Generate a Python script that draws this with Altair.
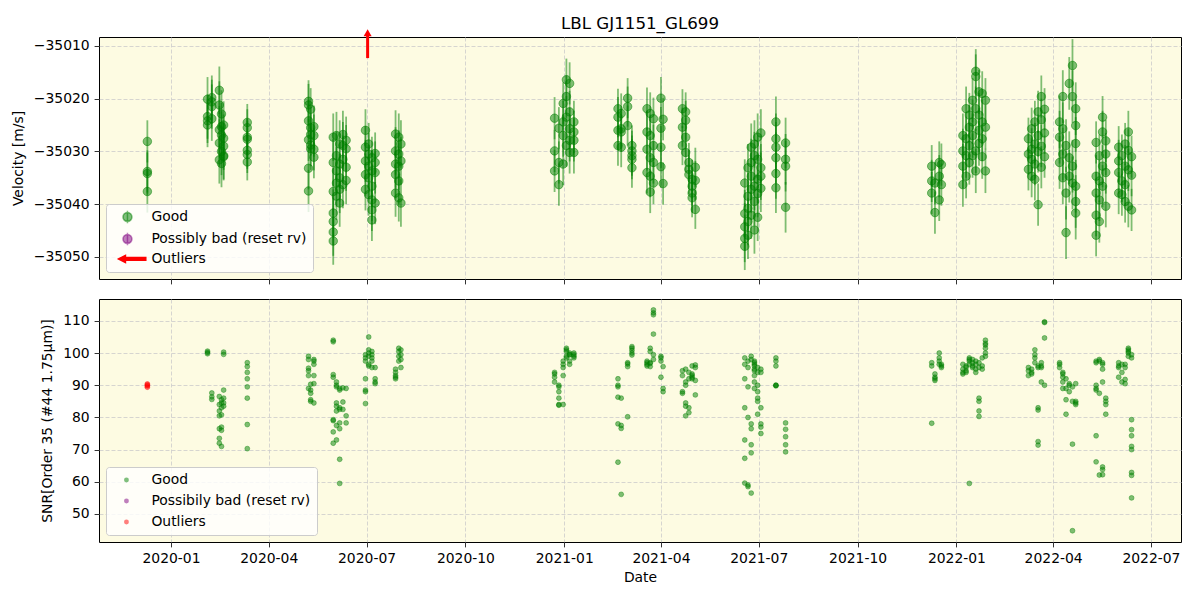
import altair as alt
import pandas as pd

# ---------------- data ----------------
status_top = ["Good", "Possibly bad (reset rv)", "Outliers"]
status_bottom = ["Good", "Possibily bad (reset rv)", "Outliers"]
status_colors = ["#008000", "#800080", "#ff0000"]
status_colors_alpha = ["rgba(0,128,0,0.5)", "rgba(128,0,128,0.5)", "#ff0000"]

x_tick_labels = ["2020-01", "2020-04", "2020-07", "2020-10", "2021-01", "2021-04",
                 "2021-07", "2021-10", "2022-01", "2022-04", "2022-07"]
x_domain = ["2019-10-26", "2022-07-29"]
rv_domain = [-35054.2, -35008.3]
rv_ticks = [-35050, -35040, -35030, -35020, -35010]
snr_domain = [41.3, 116.8]
snr_ticks = [50, 60, 70, 80, 90, 100, 110]

night_dates = [
    "2019-12-10",
    "2020-02-04", "2020-02-08",
    "2020-02-15", "2020-02-17", "2020-02-19",
    "2020-03-12",
    "2020-05-08", "2020-05-10", "2020-05-13",
    "2020-05-31", "2020-06-03", "2020-06-06", "2020-06-09", "2020-06-12",
    "2020-06-30", "2020-07-03", "2020-07-06", "2020-07-09",
    "2020-07-28", "2020-07-31", "2020-08-02",
    "2020-12-23", "2020-12-27", "2020-12-31", "2021-01-03", "2021-01-06", "2021-01-10",
    "2021-02-20", "2021-02-23", "2021-03-01", "2021-03-05",
    "2021-03-19", "2021-03-22", "2021-03-25", "2021-04-01", "2021-04-03",
    "2021-04-21", "2021-04-24", "2021-04-27", "2021-04-30", "2021-05-03",
    "2021-06-18", "2021-06-21", "2021-06-24", "2021-06-27", "2021-06-30", "2021-07-03",
    "2021-07-17", "2021-07-26",
    "2021-12-09", "2021-12-12", "2021-12-16", "2021-12-18",
    "2022-01-07", "2022-01-10", "2022-01-13", "2022-01-16", "2022-01-19", "2022-01-22",
    "2022-01-25", "2022-01-28",
    "2022-03-09", "2022-03-12", "2022-03-15", "2022-03-18", "2022-03-21", "2022-03-24",
    "2022-04-07", "2022-04-10", "2022-04-13", "2022-04-16", "2022-04-19", "2022-04-22",
    "2022-05-11", "2022-05-14", "2022-05-17", "2022-05-20",
    "2022-06-01", "2022-06-04", "2022-06-07", "2022-06-10", "2022-06-13",
]

night_rv = [
    [-35028.1, -35033.8, -35034.2, -35037.6],
    [-35020.1, -35023.4, -35025.0, -35024.2], [-35019.8, -35020.6, -35023.8, -35021.5],
    [-35018.4, -35021.2, -35025.9, -35028.4, -35031.6], [-35022.9, -35025.3, -35026.9, -35030.0, -35032.3],
    [-35025.0, -35027.5, -35029.0, -35030.8, -35031.0],
    [-35024.5, -35025.5, -35027.3, -35027.7, -35029.8, -35030.6, -35032.0],
    [-35020.5, -35021.2, -35024.2, -35027.8, -35033.2, -35037.5], [-35022.0, -35025.5, -35026.8, -35028.8, -35029.5],
    [-35025.3, -35027.0, -35029.6, -35031.1],
    [-35027.3, -35032.1, -35037.6, -35041.7, -35043.3, -35045.3, -35047.0], [-35027.0, -35030.8, -35033.7, -35036.0, -35038.5],
    [-35028.6, -35032.4, -35035.0, -35037.2, -35039.8], [-35026.8, -35028.9, -35031.5, -35036.3],
    [-35027.9, -35029.5, -35033.0, -35035.5],
    [-35026.0, -35029.2, -35031.8, -35034.4, -35037.2], [-35028.6, -35030.5, -35032.8, -35035.0, -35038.2],
    [-35031.2, -35033.7, -35036.6, -35039.2, -35041.1, -35043.0], [-35030.4, -35032.1, -35034.0, -35039.8],
    [-35026.7, -35029.9, -35032.4, -35034.4, -35037.9], [-35027.3, -35030.5, -35032.8, -35035.6, -35038.8],
    [-35028.6, -35031.8, -35039.8],
    [-35023.7, -35029.9, -35033.7], [-35025.6, -35032.1, -35036.3], [-35020.9, -35024.4, -35027.0, -35032.4],
    [-35016.4, -35019.6, -35023.5, -35028.9], [-35017.1, -35022.5, -35025.7, -35027.9, -35030.2],
    [-35024.4, -35026.3, -35027.9, -35030.2],
    [-35021.9, -35023.5, -35026.0, -35028.9], [-35022.8, -35025.7, -35026.3, -35029.2], [-35019.9, -35021.5, -35025.1],
    [-35028.9, -35029.9, -35030.8, -35031.5, -35033.1],
    [-35021.9, -35026.3, -35029.6, -35034.0], [-35022.8, -35027.0, -35031.2, -35034.7, -35037.7],
    [-35023.8, -35028.9, -35032.1, -35036.0], [-35019.9, -35025.6, -35029.2, -35032.9], [-35023.9, -35036.1],
    [-35021.9, -35025.4, -35028.9], [-35022.5, -35024.1, -35027.3, -35030.2], [-35032.1, -35033.4, -35034.4],
    [-35035.3, -35036.6, -35037.9, -35038.8], [-35033.0, -35035.5, -35041.0],
    [-35036.0, -35041.8, -35044.3, -35048.0, -35046.5], [-35033.1, -35038.5, -35043.3, -35045.9, -35040.8],
    [-35029.2, -35032.1, -35034.7, -35037.2, -35042.1], [-35028.6, -35030.8, -35036.6, -35039.5, -35044.9],
    [-35027.3, -35031.5, -35035.3, -35038.0, -35042.5], [-35026.5, -35033.1, -35034.7, -35037.0],
    [-35024.4, -35027.6, -35029.2, -35031.2, -35034.2, -35036.9], [-35028.4, -35031.5, -35032.8, -35040.6],
    [-35032.8, -35035.6, -35037.9], [-35041.6, -35036.0], [-35032.1, -35034.7, -35039.2], [-35032.5, -35036.3],
    [-35027.0, -35029.9, -35032.8, -35036.3], [-35021.9, -35027.6, -35030.8, -35034.7],
    [-35023.1, -35025.4, -35028.9, -35032.1], [-35020.3, -35024.4, -35027.0, -35030.8],
    [-35014.8, -35015.8, -35021.9, -35029.9, -35033.7], [-35018.7, -35023.1, -35026.0, -35028.5],
    [-35019.0, -35024.4, -35027.6, -35031.0], [-35020.3, -35025.4, -35033.7],
    [-35027.6, -35030.5, -35033.4], [-35025.7, -35029.6, -35031.5, -35034.7], [-35024.4, -35028.6, -35032.4, -35035.3],
    [-35022.5, -35027.0, -35030.0, -35040.1], [-35019.6, -35024.0, -35029.0, -35033.0], [-35022.0, -35026.5, -35031.0],
    [-35024.4, -35027.3, -35032.1], [-35019.6, -35025.7, -35030.5, -35035.0], [-35028.9, -35037.9, -35045.4],
    [-35017.1, -35031.2, -35034.7], [-35013.7, -35019.6, -35032.8, -35036.0],
    [-35021.9, -35025.1, -35028.5, -35036.6, -35039.5, -35041.7],
    [-35028.3, -35034.7, -35037.9, -35042.1, -35045.9], [-35030.8, -35035.6, -35039.2, -35043.3],
    [-35023.5, -35026.3, -35032.8, -35036.6], [-35028.0, -35030.5, -35034.0, -35040.4],
    [-35029.2, -35031.8, -35034.0, -35037.9], [-35030.8, -35035.6, -35038.2], [-35028.6, -35032.8, -35036.3, -35039.5],
    [-35026.3, -35029.8, -35033.5, -35040.4], [-35031.0, -35034.5, -35041.1],
]

night_rv_err = (
    [4.0] + [4.2] * 2 + [4.5] * 3 + [3.5] + [4.0] * 3 + [4.5] * 5 + [4.0] * 4 + [4.5] * 3
    + [4.0] * 6 + [3.8] * 4 + [4.0] * 5 + [3.7] * 5 + [4.5] * 6 + [4.8] * 2 + [4.0] * 4
    + [4.2] * 8 + [4.0] * 6 + [5.0] * 6 + [4.0] * 4 + [4.0] * 5
)

night_snr = [
    [],
    [100.6, 100.2, 99.8], [87.6, 86.4, 85.6],
    [86.5, 84.0, 82.0, 80.5, 76.5, 73.5, 72.0], [85.5, 84.5, 83.0, 80.8, 77.0, 76.0, 71.0],
    [100.3, 99.6, 88.5, 86.0, 84.5, 83.5],
    [97.0, 95.8, 94.0, 92.0, 89.5, 86.0, 77.8, 70.3],
    [99.0, 98.0, 95.3, 94.5, 93.0, 89.0], [90.3, 88.5, 87.5, 85.5, 85.0], [98.0, 97.5, 96.5, 93.0, 90.5, 84.5],
    [104.0, 103.5, 93.3, 92.5, 79.3, 79.0, 75.5, 72.0], [91.0, 90.0, 89.5, 84.5, 83.5, 82.0, 77.5, 73.0],
    [89.0, 88.5, 83.0, 82.5, 78.3, 76.5, 67.0, 59.5], [89.2, 84.8, 82.5], [89.0, 80.5, 78.3],
    [99.5, 98.5, 97.5, 92.0, 88.5, 88.0, 84.3], [105.0, 101.0, 100.0, 99.0, 96.5, 96.0],
    [100.5, 99.5, 98.5, 97.5, 95.5], [95.5, 92.0, 91.0, 90.5],
    [92.0, 92.5, 93.0, 94.0, 95.0], [97.5, 99.0, 100.5, 101.5], [95.5, 98.0, 99.5, 101.0],
    [94.0, 93.5, 92.5, 91.0], [90.0, 89.5, 88.0, 86.0, 84.0, 83.8], [97.5, 96.5, 95.5, 84.0, 93.0],
    [101.5, 101.0, 100.5, 99.0, 98.5], [100.0, 99.5, 99.5, 97.5, 96.5], [100.0, 99.5, 99.0, 98.5],
    [92.0, 90.0, 89.5, 86.3, 78.0, 66.1], [86.0, 77.5, 76.6, 56.1], [97.0, 96.6, 95.8, 80.2],
    [102.0, 101.5, 100.8, 100.0, 99.4],
    [97.5, 97.0, 96.5, 96.0], [101.5, 100.5, 97.0, 96.8, 95.8], [113.4, 112.5, 111.9, 105.9, 99.5, 98.0],
    [99.0, 98.5, 97.5, 92.5], [95.8, 89.0, 88.0],
    [94.5, 93.0, 88.0, 87.5], [95.0, 91.0, 90.0, 84.5, 83.5, 80.5], [94.0, 92.0, 81.5, 83.0],
    [96.0, 93.5, 93.0, 92.5, 92.0], [96.3, 95.5, 91.5, 87.0],
    [98.5, 96.5, 92.0, 83.0, 73.0, 67.3, 59.6], [97.5, 95.5, 89.5, 80.0, 59.0, 58.5],
    [99.0, 98.0, 78.0, 76.5, 71.5, 69.0, 56.5], [97.5, 97.0, 96.5, 96.0, 95.0, 94.5, 93.0, 91.0, 89.0],
    [95.5, 94.0, 90.0, 88.0, 86.0, 85.0, 81.0], [95.0, 94.0, 83.0, 78.0, 77.0, 75.0],
    [98.5, 97.5, 96.0, 90.0, 90.0, 89.8], [78.3, 76.3, 74.0, 71.5, 69.3],
    [97.0, 96.0, 78.2], [93.5, 92.5, 92.0, 91.5], [100.0, 98.5, 97.5, 96.5], [96.0, 95.5, 96.5],
    [96.5, 95.0, 94.0, 93.5], [95.5, 94.5, 94.0, 96.0], [98.5, 98.0, 97.5, 96.5, 59.5], [98.0, 97.0, 96.0, 95.5],
    [97.5, 96.5, 95.0, 94.0], [97.0, 95.5, 86.0, 85.0, 82.0, 80.3], [98.5, 96.0, 95.0],
    [104.0, 103.0, 102.5, 101.5, 100.0, 99.0],
    [95.5, 94.5, 93.0], [95.0, 94.0, 93.5], [101.0, 99.5, 98.5, 97.0], [96.0, 95.5, 83.0, 82.3, 72.5, 71.4],
    [97.0, 96.0, 95.5, 91.0], [109.7, 109.5, 104.7, 90.0],
    [97.0, 96.5, 95.5], [94.0, 93.5, 92.5, 91.0, 89.0], [92.0, 89.0, 85.5, 81.0], [90.5, 90.0, 88.0],
    [89.5, 85.0, 71.7, 44.8], [90.5, 85.0, 84.5, 84.0],
    [97.5, 97.0, 90.0, 89.0, 88.5, 74.3, 66.2], [98.0, 97.5, 87.5, 62.1],
    [97.0, 96.5, 95.0, 91.0, 64.6, 63.8, 62.2], [86.0, 85.0, 84.0, 81.0],
    [97.0, 96.0, 95.5, 92.5], [96.5, 94.0, 91.0], [96.5, 95.5, 91.8, 90.5], [101.5, 101.0, 100.5, 100.0, 99.0],
    [99.5, 98.5, 79.3, 76.2, 74.3, 71.0, 70.0, 62.9, 62.0, 55.0],
]

snr_outlier_dates = ["2019-12-10", "2019-12-10", "2019-12-10", "2019-12-10"]
snr_outlier_values = [89.4, 89.8, 90.1, 90.4]

rv_outlier_dates = ["2020-07-02"]
rv_outlier_arrow_from = [-35012.3]
rv_outlier_arrow_to = [-35007.5]

assert len(night_dates) == len(night_rv) == len(night_rv_err) == len(night_snr)

# ---------------- tables ----------------
rv_rows = []
for d, vals, e in zip(night_dates, night_rv, night_rv_err):
    for v in vals:
        rv_rows.append({"date": d, "rv": v, "lo": v - e, "hi": v + e})
rv_df = pd.DataFrame(rv_rows)

snr_rows = []
for d, vals in zip(night_dates, night_snr):
    for v in vals:
        snr_rows.append({"date": d, "snr": v, "status": status_bottom[0]})
for d, v in zip(snr_outlier_dates, snr_outlier_values):
    snr_rows.append({"date": d, "snr": v, "status": status_bottom[2]})
snr_df = pd.DataFrame(snr_rows)

arrow_df = pd.DataFrame({"date": rv_outlier_dates, "base": rv_outlier_arrow_from,
                         "tip": rv_outlier_arrow_to})
legend_df = pd.DataFrame({"date": [night_dates[0]] * 3, "rv": [None] * 3, "status": status_top})


def to_dt(s):
    p = [int(v) for v in s.split("-")]
    return alt.DateTime(year=p[0], month=p[1], date=p[2] if len(p) > 2 else 1, utc=True)


x_tick_values = [to_dt(s) for s in x_tick_labels]
x_scale = alt.Scale(type="utc", domain=[to_dt(s) for s in x_domain])
rv_scale = alt.Scale(domain=rv_domain, nice=False, zero=False)
snr_scale = alt.Scale(domain=snr_domain, nice=False, zero=False)

x_top = alt.X("date:T", scale=x_scale,
              axis=alt.Axis(values=x_tick_values, labels=False, title=None, grid=True))
x_bot = alt.X("date:T", scale=x_scale,
              axis=alt.Axis(values=x_tick_values, format="%Y-%m", title="Date", grid=True,
                            titlePadding=5.2))
rv_axis = alt.Axis(values=rv_ticks, format="d", title="Velocity [m/s]", grid=True)
snr_axis = alt.Axis(values=snr_ticks, format="d", title="SNR[Order 35 (#44 1.75μm)]", grid=True)


def y_rv(field):
    return alt.Y(field, scale=rv_scale, axis=rv_axis)


GREEN = status_colors[0]

errbars = alt.Chart(rv_df).mark_rule(color=GREEN, opacity=0.5, strokeWidth=1.8).encode(
    x=x_top, y=y_rv("lo:Q"), y2="hi:Q")
points = alt.Chart(rv_df).mark_point(
    filled=True, size=72, fill=GREEN, fillOpacity=0.5, stroke=GREEN, strokeOpacity=0.5,
    strokeWidth=1).encode(x=x_top, y=y_rv("rv:Q"))
arrow_line = alt.Chart(arrow_df).mark_rule(color="red", strokeWidth=3).encode(
    x=x_top, y=y_rv("base:Q"), y2="tip:Q")
arrow_head = alt.Chart(arrow_df).mark_point(
    shape="triangle-up", filled=True, color="red", size=64, opacity=1).encode(
    x=x_top, y=y_rv("tip:Q"))

good_path = "M -1 0 A 1 1 0 1 0 1 0 A 1 1 0 1 0 -1 0 Z M 0 -1.4 L 0 1.4"
arrow_path = "M -2.0 0 L -0.45 -0.8 L -0.45 -0.3 L 4.1 -0.3 L 4.1 0.3 L -0.45 0.3 L -0.45 0.8 Z"

top_legend = alt.Legend(
    title=None, orient="bottom-left", offset=7, fillColor="rgba(255,255,255,0.8)",
    strokeColor="#cccccc", cornerRadius=3, padding=6, labelFontSize=13.9, labelColor="black",
    symbolSize=80, symbolStrokeWidth=1.5, symbolOpacity=1, symbolOffset=8.5, labelOffset=17,
    rowPadding=2)

legend_layer = alt.Chart(legend_df).mark_point(filled=True, opacity=1).encode(
    x=x_top, y=y_rv("rv:Q"),
    color=alt.Color("status:N", scale=alt.Scale(domain=status_top, range=status_colors_alpha),
                    legend=top_legend),
    stroke=alt.Stroke("status:N", scale=alt.Scale(domain=status_top, range=status_colors_alpha),
                      legend=top_legend),
    shape=alt.Shape("status:N", scale=alt.Scale(domain=status_top,
                                                range=[good_path, good_path, arrow_path]),
                    legend=top_legend),
)

top = alt.layer(errbars, points, arrow_line, arrow_head, legend_layer).properties(
    width=1082, height=242,
    title=alt.TitleParams("LBL GJ1151_GL699", fontSize=16.7, fontWeight="normal",
                          anchor="middle", frame="group", offset=-3, color="black"))

bottom_legend = alt.Legend(
    title=None, orient="bottom-left", offset=7, fillColor="rgba(255,255,255,0.8)",
    strokeColor="#cccccc", cornerRadius=3, padding=6, labelFontSize=13.9, labelColor="black",
    symbolSize=24, symbolOpacity=0.5, symbolStrokeWidth=0, symbolOffset=7.5, labelOffset=18,
    rowPadding=6)

snr_points = alt.Chart(snr_df).mark_point(
    filled=True, size=24, fillOpacity=0.5, strokeOpacity=0.5, strokeWidth=0.8).encode(
    x=x_bot,
    y=alt.Y("snr:Q", scale=snr_scale, axis=snr_axis),
    color=alt.Color("status:N", scale=alt.Scale(domain=status_bottom, range=status_colors),
                    legend=bottom_legend),
    stroke=alt.Stroke("status:N", scale=alt.Scale(domain=status_bottom, range=status_colors),
                      legend=bottom_legend),
)

bottom = alt.layer(snr_points).properties(width=1082, height=243)

chart = alt.vconcat(top, bottom, spacing=20, bounds="flush").resolve_scale(
    x="independent", y="independent", color="independent", stroke="independent",
    shape="independent"
).resolve_legend(
    color="independent", stroke="independent", shape="independent"
).properties(
    padding={"left": 10, "top": 15, "right": 18, "bottom": 10}
).configure(
    font="DejaVu Sans"
).configure_view(
    fill="#fdfbe2", stroke="black", strokeWidth=1
).configure_axis(
    labelFontSize=13.9, titleFontSize=13.9, titleFontWeight="normal", labelColor="black",
    titleColor="black", tickColor="black", tickSize=4.9, tickWidth=0.8, domain=False,
    gridColor="#cccccc", gridDash=[4, 2], gridWidth=0.8, labelPadding=4.9, titlePadding=8
)

chart.save("out.html", embed_options={"renderer": "svg", "actions": False})
